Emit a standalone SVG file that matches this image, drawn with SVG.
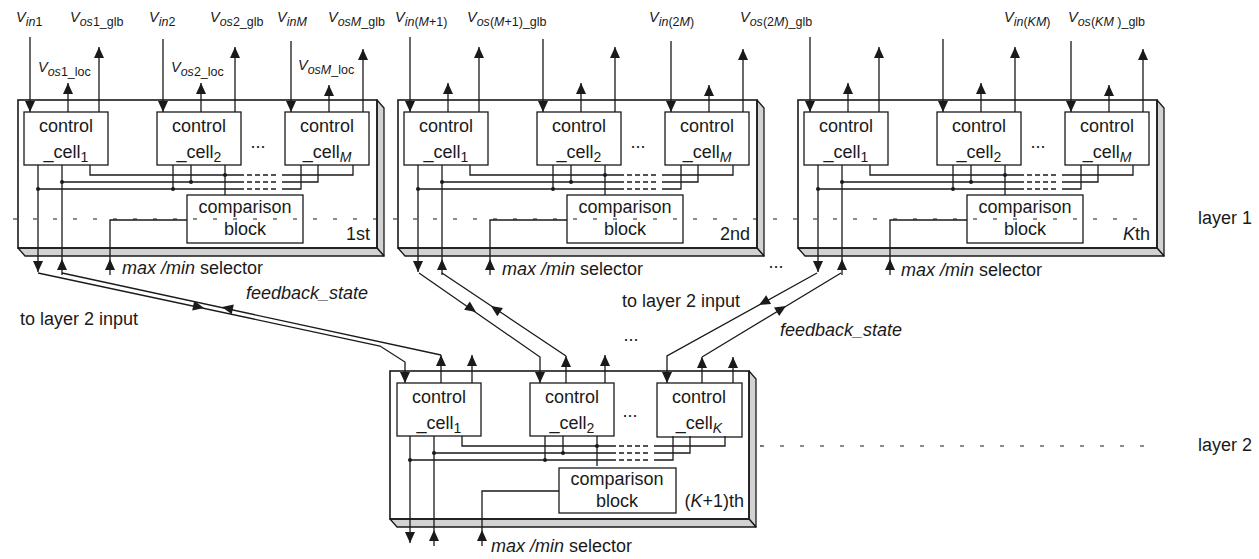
<svg xmlns="http://www.w3.org/2000/svg" width="1259" height="559" viewBox="0 0 1259 559">
<style>
  text{font-family:"Liberation Sans",Arial,sans-serif;fill:#1a1a1a}
  .t{font-size:18px}
  .c{font-size:18px;text-anchor:middle}
  .e{font-size:18px;text-anchor:end}
  .v{font-size:14.5px;font-style:italic}
  .s{font-size:12.5px}
  .cs{font-size:14px}
  .i{font-style:italic}
  .n{font-style:normal}
  .w{fill:none;stroke:#1a1a1a;stroke-width:1.3}
  .dash{stroke-dasharray:5 3}
  .box{fill:#fff;stroke:#1a1a1a;stroke-width:1.3}
  .frame{fill:none;stroke:#1a1a1a;stroke-width:1.6}
  .bevel{fill:#d2d2d2;stroke:#1a1a1a;stroke-width:1.3;stroke-linejoin:round}
  .dot{fill:#1a1a1a}
  .layer{fill:none;stroke:#1a1a1a;stroke-width:1.2;stroke-dasharray:4 16}
</style>
<defs>
  <!-- arrowheads: tip at the origin -->
  <path id="aU" d="M0,0 L5,11 L-5,11Z" fill="#1a1a1a"/>
  <path id="aD" d="M0,0 L5,-11 L-5,-11Z" fill="#1a1a1a"/>
  <path id="aF" d="M0,0 L-11,-5 L-11,5Z" fill="#1a1a1a"/>
  <!-- bevelled board outline -->
  <g id="frame">
    <polygon class="bevel" points="359,0 366,8 366,156 359,148"/>
    <polygon class="bevel" points="0,148 359,148 366,156 7,156"/>
    <rect class="frame" x="0" y="0" width="359" height="148"/>
  </g>
  <!-- wiring inside one board: shared bus, comparison feed, board I/O -->
  <g id="bus">
    <path class="w" d="M20,65 V172 M44,65 V175 M92,175 V120 H169 M72,65 V75 H226 M44,82 H226 M20,89 H226 M264,75 H335 V65 M264,82 H300 V65 M264,89 H283 V65 M155,65 V89 M173,65 V82 M207,65 V95"/>
    <path class="w dash" d="M229,75 H259 M229,82 H259 M229,89 H259"/>
    <circle class="dot" cx="44" cy="82" r="2"/>
    <circle class="dot" cx="20" cy="89" r="2"/>
    <circle class="dot" cx="155" cy="89" r="2"/>
    <circle class="dot" cx="173" cy="82" r="2"/>
    <circle class="dot" cx="207" cy="75" r="2"/>
    <use href="#aD" x="20" y="172"/>
    <use href="#aU" x="44" y="159"/>
    <use href="#aU" x="92" y="159"/>
  </g>
  <!-- per-cell inputs and offset outputs of a layer-1 board -->
  <g id="io">
    <path class="w" d="M12,-63 V12 M50,12 V-17 M81,12 V-53 M145,-61 V12 M183,12 V-17 M217,12 V-53 M273,-59 V12 M311,12 V-15 M345,12 V-51"/>
    <use href="#aD" x="12" y="12"/>
    <use href="#aU" x="50" y="-17"/>
    <use href="#aU" x="81" y="-53"/>
    <use href="#aD" x="145" y="12"/>
    <use href="#aU" x="183" y="-17"/>
    <use href="#aU" x="217" y="-53"/>
    <use href="#aD" x="273" y="12"/>
    <use href="#aU" x="311" y="-15"/>
    <use href="#aU" x="345" y="-51"/>
  </g>
</defs>

<rect width="1259" height="559" fill="#fff"/>

<!-- layer 1 boards -->
<g id="board-1st" transform="translate(18,100)">
  <use href="#frame"/>
  <g id="b1-cell1"><rect class="box" x="6" y="12" width="84" height="53"/><text class="c" x="48" y="32">control</text><text class="c" x="48" y="58">_cell<tspan class="cs" dy="4">1</tspan></text></g>
  <g id="b1-cell2"><rect class="box" x="139" y="12" width="84" height="53"/><text class="c" x="181" y="32">control</text><text class="c" x="181" y="58">_cell<tspan class="cs" dy="4">2</tspan></text></g>
  <g id="b1-cellM"><rect class="box" x="267" y="12" width="84" height="53"/><text class="c" x="309" y="32">control</text><text class="c" x="309" y="58">_cell<tspan class="cs i" dy="4">M</tspan></text></g>
  <text class="c" x="240" y="48">...</text>
  <g id="b1-cmp"><rect class="box" x="169" y="95" width="116" height="48"/><text class="c" x="227" y="113">comparison</text><text class="c" x="227" y="135">block</text></g>
  <text class="e" x="352" y="140">1st</text>
</g>

<g id="board-2nd" transform="translate(398,100)">
  <use href="#frame"/>
  <g id="b2-cell1"><rect class="box" x="6" y="12" width="84" height="53"/><text class="c" x="48" y="32">control</text><text class="c" x="48" y="58">_cell<tspan class="cs" dy="4">1</tspan></text></g>
  <g id="b2-cell2"><rect class="box" x="139" y="12" width="84" height="53"/><text class="c" x="181" y="32">control</text><text class="c" x="181" y="58">_cell<tspan class="cs" dy="4">2</tspan></text></g>
  <g id="b2-cellM"><rect class="box" x="267" y="12" width="84" height="53"/><text class="c" x="309" y="32">control</text><text class="c" x="309" y="58">_cell<tspan class="cs i" dy="4">M</tspan></text></g>
  <text class="c" x="240" y="48">...</text>
  <g id="b2-cmp"><rect class="box" x="169" y="95" width="116" height="48"/><text class="c" x="227" y="113">comparison</text><text class="c" x="227" y="135">block</text></g>
  <text class="e" x="352" y="140">2nd</text>
</g>

<g id="board-Kth" transform="translate(798,100)">
  <use href="#frame"/>
  <g id="bK-cell1"><rect class="box" x="6" y="12" width="84" height="53"/><text class="c" x="48" y="32">control</text><text class="c" x="48" y="58">_cell<tspan class="cs" dy="4">1</tspan></text></g>
  <g id="bK-cell2"><rect class="box" x="139" y="12" width="84" height="53"/><text class="c" x="181" y="32">control</text><text class="c" x="181" y="58">_cell<tspan class="cs" dy="4">2</tspan></text></g>
  <g id="bK-cellM"><rect class="box" x="267" y="12" width="84" height="53"/><text class="c" x="309" y="32">control</text><text class="c" x="309" y="58">_cell<tspan class="cs i" dy="4">M</tspan></text></g>
  <text class="c" x="240" y="48">...</text>
  <g id="bK-cmp"><rect class="box" x="169" y="95" width="116" height="48"/><text class="c" x="227" y="113">comparison</text><text class="c" x="227" y="135">block</text></g>
  <text class="e" x="352" y="140"><tspan class="i">K</tspan>th</text>
</g>

<!-- layer 2 board -->
<g id="board-K1th" transform="translate(390,371)">
  <use href="#frame"/>
  <g id="b2l-cell1"><rect class="box" x="7" y="12" width="84" height="53"/><text class="c" x="49" y="32">control</text><text class="c" x="49" y="58">_cell<tspan class="cs" dy="4">1</tspan></text></g>
  <g id="b2l-cell2"><rect class="box" x="140" y="12" width="84" height="53"/><text class="c" x="182" y="32">control</text><text class="c" x="182" y="58">_cell<tspan class="cs" dy="4">2</tspan></text></g>
  <g id="b2l-cellK"><rect class="box" x="267" y="12" width="85" height="54"/><text class="c" x="309" y="32">control</text><text class="c" x="309" y="58">_cell<tspan class="cs i" dy="4">K</tspan></text></g>
  <text class="c" x="240" y="46">...</text>
  <g id="b2l-cmp"><rect class="box" x="169" y="97" width="117" height="45"/><text class="c" x="227" y="114">comparison</text><text class="c" x="227" y="136">block</text></g>
  <text class="e" x="354" y="136">(<tspan class="i">K</tspan>+1)th</text>
</g>

<!-- connectors -->
<g id="connectors">
  <g transform="translate(18,100)"><use href="#bus"/><use href="#io"/></g>
  <g transform="translate(398,100)"><use href="#bus"/><use href="#io"/></g>
  <g transform="translate(798,100)"><use href="#bus"/><use href="#io"/></g>
  <g transform="translate(390,371)"><use href="#bus"/></g>

  <!-- layer-2 cell inputs and outputs -->
  <path class="w" d="M38,273 L380,346 L405,362 V383 M62,273 L441,355 M441,383 V355 M472,383 V355"/>
  <path class="w" d="M419,273 L540,357 V383 M442,273 L566,356 M566,383 V356 M605,383 V355"/>
  <path class="w" d="M817,273 L667,356 V383 M841,273 L702,357 M702,383 V357 M733,383 V357"/>
  <use href="#aD" x="405" y="383"/>
  <use href="#aU" x="441" y="355"/>
  <use href="#aU" x="472" y="355"/>
  <use href="#aD" x="540" y="383"/>
  <use href="#aU" x="566" y="356"/>
  <use href="#aU" x="605" y="355"/>
  <use href="#aD" x="667" y="383"/>
  <use href="#aU" x="702" y="357"/>
  <use href="#aU" x="733" y="357"/>

  <!-- direction marks on the crossing links -->
  <use href="#aF" transform="translate(204,308) rotate(12)"/>
  <use href="#aF" transform="translate(222,307) rotate(192.2)"/>
  <use href="#aF" transform="translate(476,312) rotate(34.8)"/>
  <use href="#aF" transform="translate(491,306) rotate(214)"/>
  <use href="#aF" transform="translate(759,305) rotate(151)"/>
  <use href="#aF" transform="translate(786,306) rotate(-31.4)"/>
</g>

<!-- layer boundaries -->
<path class="layer" d="M13,219 H1150"/>
<path class="layer" d="M760,446 H1150"/>

<!-- signal labels -->
<g id="labels">
  <text class="v" x="16" y="22">V<tspan class="s" dy="4">in</tspan><tspan class="s n">1</tspan></text>
  <text class="v" x="70" y="22">V<tspan class="s" dy="4">os</tspan><tspan class="s n">1_glb</tspan></text>
  <text class="v" x="149" y="22">V<tspan class="s" dy="4">in</tspan><tspan class="s n">2</tspan></text>
  <text class="v" x="210" y="22">V<tspan class="s" dy="4">os</tspan><tspan class="s n">2_glb</tspan></text>
  <text class="v" x="277" y="22">V<tspan class="s" dy="4">inM</tspan></text>
  <text class="v" x="328" y="22">V<tspan class="s" dy="4">osM</tspan><tspan class="s n">_glb</tspan></text>
  <text class="v" x="38" y="72">V<tspan class="s" dy="4">os</tspan><tspan class="s n">1_loc</tspan></text>
  <text class="v" x="171" y="72">V<tspan class="s" dy="4">os</tspan><tspan class="s n">2_loc</tspan></text>
  <text class="v" x="298" y="70">V<tspan class="s" dy="4">osM</tspan><tspan class="s n">_loc</tspan></text>

  <text class="v" x="395" y="22">V<tspan class="s" dy="4">in</tspan><tspan class="s n">(</tspan><tspan class="s">M</tspan><tspan class="s n">+1)</tspan></text>
  <text class="v" x="467" y="22">V<tspan class="s" dy="4">os</tspan><tspan class="s n">(</tspan><tspan class="s">M</tspan><tspan class="s n">+1)_glb</tspan></text>
  <text class="v" x="649" y="22">V<tspan class="s" dy="4">in</tspan><tspan class="s n">(2</tspan><tspan class="s">M</tspan><tspan class="s n">)</tspan></text>
  <text class="v" x="740" y="22">V<tspan class="s" dy="4">os</tspan><tspan class="s n">(2</tspan><tspan class="s">M</tspan><tspan class="s n">)_glb</tspan></text>
  <text class="v" x="1004" y="22">V<tspan class="s" dy="4">in</tspan><tspan class="s n">(</tspan><tspan class="s">KM</tspan><tspan class="s n">)</tspan></text>
  <text class="v" x="1068" y="22">V<tspan class="s" dy="4">os</tspan><tspan class="s n">(</tspan><tspan class="s">KM </tspan><tspan class="s n">)_glb</tspan></text>

  <text class="t" x="122" y="274"><tspan class="i">max</tspan> <tspan class="i">/min</tspan> selector</text>
  <text class="t" x="502" y="275"><tspan class="i">max</tspan> <tspan class="i">/min</tspan> selector</text>
  <text class="t" x="901" y="276"><tspan class="i">max</tspan> <tspan class="i">/min</tspan> selector</text>
  <text class="t" x="491" y="552"><tspan class="i">max</tspan> <tspan class="i">/min</tspan> selector</text>

  <text class="t" x="20" y="325">to layer 2 input</text>
  <text class="t i" x="246" y="299">feedback_state</text>
  <text class="t" x="622" y="307">to layer 2 input</text>
  <text class="t i" x="780" y="336">feedback_state</text>
  <text class="c" x="631" y="341">...</text>
  <text class="c" x="776" y="268">...</text>

  <text class="t" x="1198" y="224">layer 1</text>
  <text class="t" x="1198" y="451">layer 2</text>
</g>
</svg>
